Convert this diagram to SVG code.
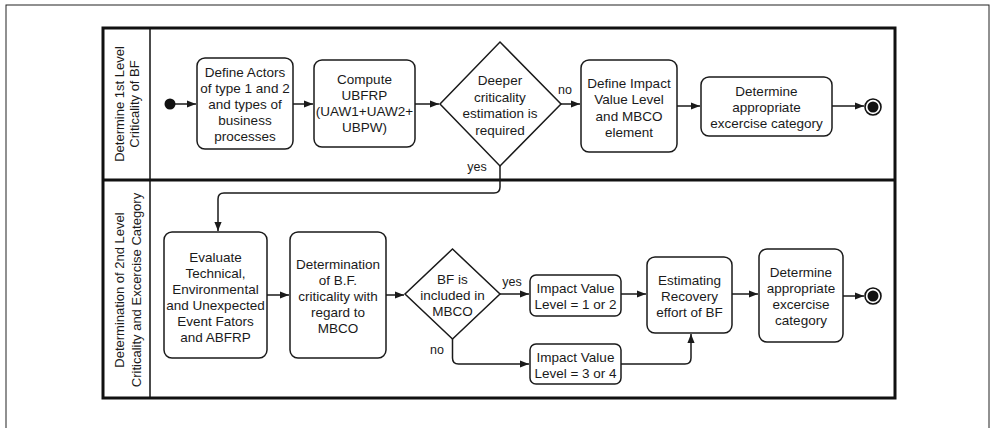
<svg xmlns="http://www.w3.org/2000/svg" width="990" height="428" viewBox="0 0 990 428">
<defs>
<style>
.box{fill:#fff;stroke:#1a1a1a;stroke-width:1.5}
.t{font-family:"Liberation Sans",Arial,sans-serif;font-size:13.5px;fill:#1a1a1a;text-anchor:middle}
.lbl{font-family:"Liberation Sans",Arial,sans-serif;font-size:12.5px;fill:#1a1a1a;text-anchor:middle}
.lane{font-family:"Liberation Sans",Arial,sans-serif;font-size:13px;fill:#1a1a1a;text-anchor:middle}
.e{fill:none;stroke:#1a1a1a;stroke-width:1.5}
</style>
<marker id="ah" viewBox="0 0 10 10" refX="10" refY="5" markerWidth="9" markerHeight="9" markerUnits="userSpaceOnUse" orient="auto">
<path d="M0,1 L10,5 L0,9 Z" fill="#1a1a1a"/>
</marker>
</defs>
<rect x="0" y="0" width="990" height="428" fill="#fff"/>
<rect x="6" y="5" width="983" height="440" fill="none" stroke="#222" stroke-width="1"/>

<g id="pool">
<rect x="103" y="28" width="792" height="370" fill="#fff" stroke="#111" stroke-width="3"/>
<line x1="150" y1="28" x2="150" y2="398" stroke="#111" stroke-width="1.5"/>
<line x1="103" y1="180" x2="895" y2="180" stroke="#111" stroke-width="3"/>
</g>
<g id="lane1">
<text class="lane" transform="translate(124,104) rotate(-90)">Determine 1st Level</text>
<text class="lane" transform="translate(139,104) rotate(-90)">Criticality of BF</text>
</g>
<g id="lane2">
<text class="lane" transform="translate(124,290) rotate(-90)">Determination of 2nd Level</text>
<text class="lane" transform="translate(141,290) rotate(-90)">Criticality and Excercise Category</text>
</g>

<g id="connectors">
<path class="e" d="M175 104 H196" marker-end="url(#ah)"/>
<path class="e" d="M293 104 H313" marker-end="url(#ah)"/>
<path class="e" d="M415 104 H439" marker-end="url(#ah)"/>
<path class="e" d="M561 104 H580" marker-end="url(#ah)"/>
<path class="e" d="M677 106 H700" marker-end="url(#ah)"/>
<path class="e" d="M832 106 H864" marker-end="url(#ah)"/>
<path class="e" d="M500 166 V187 Q500 193 494 193 H224 Q218 193 218 199 V231" marker-end="url(#ah)"/>
<path class="e" d="M267 295 H289" marker-end="url(#ah)"/>
<path class="e" d="M386 295 H404" marker-end="url(#ah)"/>
<path class="e" d="M500 294 H529" marker-end="url(#ah)"/>
<path class="e" d="M452.5 339 V358 Q452.5 364 458.5 364 H529" marker-end="url(#ah)"/>
<path class="e" d="M621 294 H646" marker-end="url(#ah)"/>
<path class="e" d="M621 364 H685 Q691 364 691 358 V334" marker-end="url(#ah)"/>
<path class="e" d="M732 294 H758" marker-end="url(#ah)"/>
<path class="e" d="M843 296 H864" marker-end="url(#ah)"/>
<text class="lbl" x="565" y="94">no</text>
<text class="lbl" x="477" y="171">yes</text>
<text class="lbl" x="512" y="286">yes</text>
<text class="lbl" x="437" y="354">no</text>
</g>

<g id="start1"><circle cx="170" cy="104" r="5.5" fill="#111"/></g>

<g id="n1">
<rect class="box" x="197" y="58" width="96" height="91" rx="8"/>
<text class="t" x="245" y="77"><tspan x="245">Define Actors</tspan><tspan x="245" dy="16">of type 1 and 2</tspan><tspan x="245" dy="16">and types of</tspan><tspan x="245" dy="16">business</tspan><tspan x="245" dy="16">processes</tspan></text>
</g>
<g id="n2">
<rect class="box" x="314" y="60" width="101" height="87" rx="8"/>
<text class="t" x="364.5" y="84"><tspan x="364.5">Compute</tspan><tspan x="364.5" dy="16">UBFRP</tspan><tspan x="364.5" dy="16">(UAW1+UAW2+</tspan><tspan x="364.5" dy="16">UBPW)</tspan></text>
</g>
<g id="d1">
<polygon class="box" points="500,42 561,104 500,166 440,104"/>
<text class="t" x="500" y="85"><tspan x="500">Deeper</tspan><tspan x="500" dy="16.5">criticality</tspan><tspan x="500" dy="16.5">estimation is</tspan><tspan x="500" dy="16.5">required</tspan></text>
</g>
<g id="n3">
<rect class="box" x="581" y="60" width="96" height="92" rx="8"/>
<text class="t" x="629" y="88"><tspan x="629">Define Impact</tspan><tspan x="629" dy="16.3">Value Level</tspan><tspan x="629" dy="16.3">and MBCO</tspan><tspan x="629" dy="16.3">element</tspan></text>
</g>
<g id="n4">
<rect class="box" x="701" y="77" width="131" height="59" rx="8"/>
<text class="t" x="766.5" y="96"><tspan x="766.5">Determine</tspan><tspan x="766.5" dy="16">appropriate</tspan><tspan x="766.5" dy="16">excercise category</tspan></text>
</g>
<g id="end1">
<circle cx="873" cy="107" r="8" fill="#fff" stroke="#111" stroke-width="1.6"/>
<circle cx="873" cy="107" r="5.5" fill="#111"/>
</g>

<g id="n5">
<rect class="box" x="164" y="232" width="103" height="126" rx="8"/>
<text class="t" x="215.5" y="262"><tspan x="215.5">Evaluate</tspan><tspan x="215.5" dy="16">Technical,</tspan><tspan x="215.5" dy="16">Environmental</tspan><tspan x="215.5" dy="16">and Unexpected</tspan><tspan x="215.5" dy="16">Event Fators</tspan><tspan x="215.5" dy="16">and ABFRP</tspan></text>
</g>
<g id="n6">
<rect class="box" x="290" y="232" width="96" height="126" rx="8"/>
<text class="t" x="338" y="269"><tspan x="338">Determination</tspan><tspan x="338" dy="16">of B.F.</tspan><tspan x="338" dy="16">criticality with</tspan><tspan x="338" dy="16">regard to</tspan><tspan x="338" dy="16">MBCO</tspan></text>
</g>
<g id="d2">
<polygon class="box" points="452.5,249 500,294 452.5,339 405,294"/>
<text class="t" x="452.5" y="284"><tspan x="452.5">BF is</tspan><tspan x="452.5" dy="16">included in</tspan><tspan x="452.5" dy="16">MBCO</tspan></text>
</g>
<g id="n7">
<rect class="box" x="530" y="275" width="91" height="41" rx="6"/>
<text class="t" x="575.5" y="293"><tspan x="575.5">Impact Value</tspan><tspan x="575.5" dy="15.5">Level = 1 or 2</tspan></text>
</g>
<g id="n8">
<rect class="box" x="530" y="344" width="91" height="40" rx="6"/>
<text class="t" x="575.5" y="362"><tspan x="575.5">Impact Value</tspan><tspan x="575.5" dy="15.5">Level = 3 or 4</tspan></text>
</g>
<g id="n9">
<rect class="box" x="647" y="257" width="85" height="76" rx="8"/>
<text class="t" x="689.5" y="285"><tspan x="689.5">Estimating</tspan><tspan x="689.5" dy="16">Recovery</tspan><tspan x="689.5" dy="16">effort of BF</tspan></text>
</g>
<g id="n10">
<rect class="box" x="759" y="249" width="84" height="93" rx="8"/>
<text class="t" x="801" y="277"><tspan x="801">Determine</tspan><tspan x="801" dy="16">appropriate</tspan><tspan x="801" dy="16">excercise</tspan><tspan x="801" dy="16">category</tspan></text>
</g>
<g id="end2">
<circle cx="873" cy="296" r="8" fill="#fff" stroke="#111" stroke-width="1.6"/>
<circle cx="873" cy="296" r="5.5" fill="#111"/>
</g>
</svg>
